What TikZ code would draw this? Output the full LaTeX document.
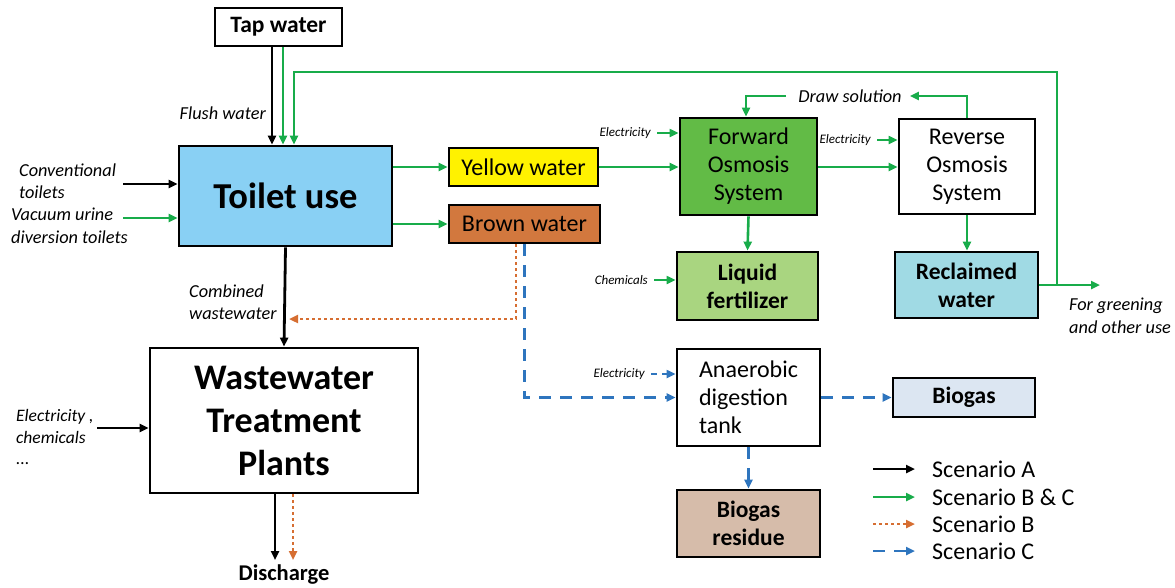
\documentclass[tikz,border=0pt]{standalone}
\usepackage{fontspec}
\setmainfont{Carlito}
\usetikzlibrary{arrows.meta}
\definecolor{gr}{RGB}{24,172,74}
\definecolor{og}{RGB}{214,110,50}
\definecolor{bl}{RGB}{46,117,190}
\definecolor{toiletc}{RGB}{137,208,244}
\definecolor{yellowc}{RGB}{255,242,0}
\definecolor{brownc}{RGB}{210,120,62}
\definecolor{foc}{RGB}{98,187,70}
\definecolor{lfc}{RGB}{169,213,128}
\definecolor{rwc}{RGB}{160,218,228}
\definecolor{bgc}{RGB}{220,230,242}
\definecolor{brc}{RGB}{214,188,170}
\tikzset{
  box/.style={draw, line width=2.8pt, inner sep=0pt, align=center},
  fs/.style={font=\fontsize{24}{28}\selectfont},
  fsb/.style={font=\bfseries\fontsize{23.5}{28}\selectfont},
  lab/.style={font=\itshape\fontsize{18.3}{22.5}\selectfont, inner sep=0pt, align=left},
  small/.style={font=\itshape\fontsize{13}{14}\selectfont, inner sep=0pt},
  tip/.style={-{Triangle[length=9pt,width=8pt]}},
  ka/.style={tip, line width=2.8pt, black},
  ga/.style={tip, line width=2.6pt, gr},
  gl/.style={line width=2.6pt, gr},
  oa/.style={tip, line width=2.8pt, og, dash pattern=on 2.8pt off 3.2pt},
  ba/.style={tip, line width=2.8pt, bl, dash pattern=on 12pt off 9pt},
}
\begin{document}
\begin{tikzpicture}[x=1pt,y=-1pt]
\useasboundingbox (0,0) rectangle (1175,587);
% boxes
\node[box, fsb, minimum width=127pt, minimum height=38pt] (tap) at (278.5,27) {Tap water};
\node[box, fill=toiletc, minimum width=213pt, minimum height=100pt, font=\bfseries\fontsize{36.5}{40}\selectfont] (toilet) at (285.5,196) {Toilet use};
\node[box, fs, fill=yellowc, minimum width=149pt, minimum height=38pt] (yw) at (523.5,167) {Yellow water};
\node[box, fs, fill=brownc, minimum width=151pt, minimum height=38pt] (bw) at (524.5,224) {Brown water};
\node[box, fs, fill=foc, minimum width=137pt, minimum height=97pt] (fo) at (748.5,166.5) {Forward\\Osmosis\\System};
\node[box, fs, minimum width=136pt, minimum height=95pt] (ro) at (967,166.5) {Reverse\\Osmosis\\System};
\node[box, fsb, fill=lfc, minimum width=141pt, minimum height=68pt] (lf) at (747.5,286) {Liquid\\fertilizer};
\node[box, fsb, fill=rwc, minimum width=143pt, minimum height=66pt] (rw) at (966.5,285) {Reclaimed\\water};
\node[box, minimum width=268pt, minimum height=145pt, font=\bfseries\fontsize{36}{43}\selectfont] (wwtp) at (284,420.5) {Wastewater\\Treatment\\Plants};
\node[box, minimum width=143pt, minimum height=97pt] (ad) at (748.5,397.5) {};
\node[fs, align=left, inner sep=0pt] (adt) at (ad.center) {Anaerobic\\digestion\\tank};
\node[box, fsb, fill=bgc, minimum width=142pt, minimum height=39pt] (bg) at (964,397.5) {Biogas};
\node[box, fsb, fill=brc, minimum width=143pt, minimum height=67pt] (br) at (748.5,523.5) {Biogas\\residue};
\node[font=\bfseries\fontsize{22.5}{24}\selectfont, inner sep=0pt] (dis) at (284,575) {Discharge};

% labels
\node[lab, anchor=east] (flush) at (266,113) {Flush water};
\node[lab, anchor=west] (conv) at (19,181) {Conventional\\toilets};
\node[lab, anchor=west] (vac) at (11,226) {Vacuum urine\\diversion toilets};
\node[lab, anchor=west] (comb) at (189,302) {Combined\\wastewater};
\node[lab, font=\itshape\fontsize{17.5}{21.5}\selectfont, anchor=west] (elw) at (16,437) {Electricity ,\\chemicals\\...};
\node[lab, inner xsep=8pt] (ds) at (850,96) {Draw solution};
\node[lab, anchor=west, align=left] (green) at (1069,316) {For greening\\and other use};
\node[small, anchor=east] (el1) at (651,133) {Electricity};
\node[small, anchor=east] (el2) at (871,140) {Electricity};
\node[small, anchor=east] (chem) at (648,280) {Chemicals};
\node[small, anchor=east] (el3) at (645,374) {Electricity};

% tap water / flush
\draw[ka] ([xshift=-6.5pt]tap.south) -- ([xshift=-6.5pt]tap.south |- toilet.north);
\draw[ga] ([xshift=4.5pt]tap.south) -- ([xshift=4.5pt]tap.south |- toilet.north);
% inputs to toilet
\coordinate (c1) at (123,184);
\coordinate (c2) at (123,218);
\draw[ka] (c1) -- (c1 -| toilet.west);
\draw[ga] (c2) -- (c2 -| toilet.west);
% toilet outputs
\draw[ga] (toilet.east |- yw) -- (yw.west);
\draw[ga] (toilet.east |- bw) -- (bw.west);
\draw[ka] (toilet.south) -- (wwtp.north);
% brown water -> WWTP (scenario B)
\coordinate (oj) at (289,319);
\draw[oa] ([xshift=-8.5pt]bw.south) |- (oj);
% brown water -> AD (scenario C)
\draw[ba] (bw.south) |- (ad.west);
\draw[ba, line width=2pt, dash pattern=on 6pt off 5pt] ([xshift=6pt]el3.east) -- (ad.west |- el3);
\draw[ba] (ad.east) -- (bg.west);
\draw[ba] (ad.south) -- (br.north);
% yellow water chain
\draw[ga] (yw.east) -- (yw.east -| fo.west);
\draw[ga, line width=2pt] ([xshift=6pt]el1.east) -- (fo.west |- el1);
\draw[ga] (fo.south) -- (lf.north);
\draw[ga, line width=2pt] ([xshift=6pt]chem.east) -- (lf.west |- chem);
\draw[ga] (fo.east |- yw) -- (ro.west |- yw);
\draw[ga, line width=2pt] ([xshift=6pt]el2.east) -- (ro.west |- el2);
\draw[ga, line width=2pt] (ro.north) |- (ds.east);
\draw[ga, line width=2pt] ([xshift=-4pt]ds.west) -| ([xshift=-2.5pt]fo.north);
\draw[ga] (ro.south) -- (ro.south |- rw.north);
% reclaimed water loop
\coordinate (split) at (1057,285);
\coordinate (fg) at (1100,285);
\draw[gl] (rw.east |- split) -- (split);
\draw[ga] (split) -- (fg);
\draw[ga] (split) -- (1057,72) -| ([xshift=8.5pt]toilet.north);
% WWTP
\draw[ka] (97,428) -- (wwtp.west |- 0,428);
\draw[ka] ([xshift=-9pt]wwtp.south) -- ([xshift=-9pt]wwtp.south |- 0,560);
\draw[oa] ([xshift=9pt]wwtp.south) -- ([xshift=9pt]wwtp.south |- 0,560);

% legend
\foreach \y/\s/\t in {469/ka/Scenario A, 497/ga/Scenario B \& C, 524/oa/Scenario B, 551/ba/Scenario C}{
  \node[fs, anchor=west, inner sep=0pt] (leg\y) at (932,\y) {\t};
  \draw[\s] (873,\y) -- (915,\y);
}
\end{tikzpicture}
\end{document}
